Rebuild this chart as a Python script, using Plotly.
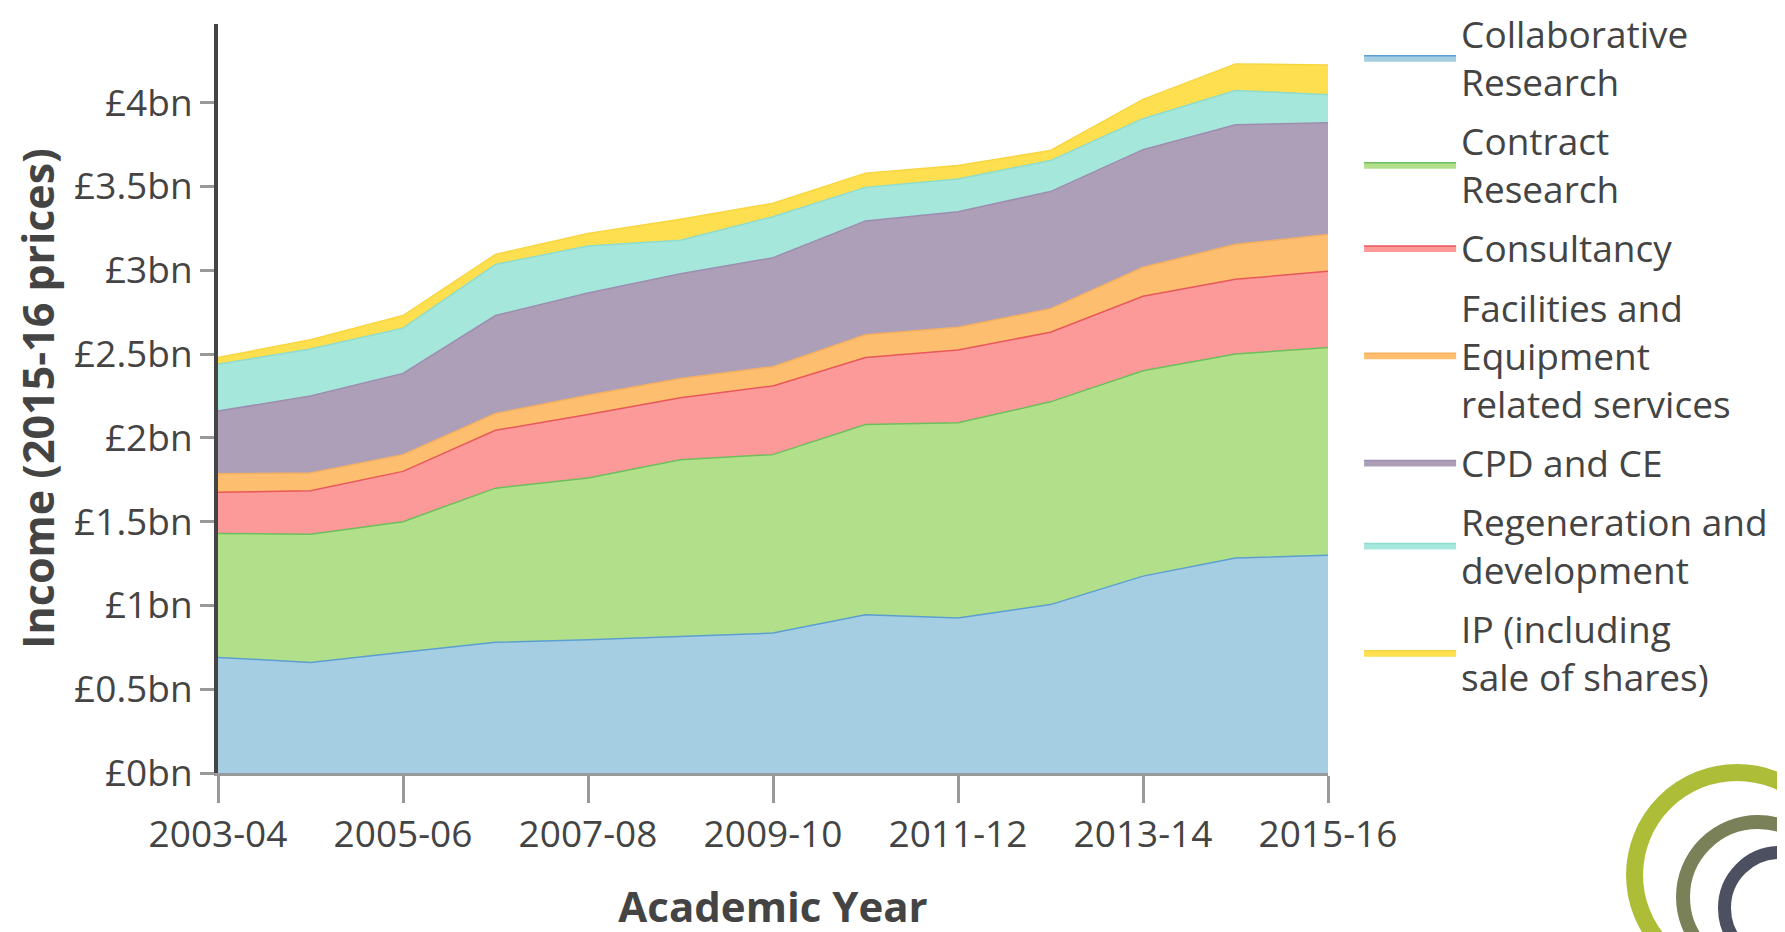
import plotly.graph_objects as go

# Data (£bn, 2015-16 prices)
years = ['2003-04', '2004-05', '2005-06', '2006-07', '2007-08', '2008-09', '2009-10',
         '2010-11', '2011-12', '2012-13', '2013-14', '2014-15', '2015-16']

collaborative = [0.69, 0.66, 0.72, 0.78, 0.795, 0.815, 0.835, 0.945, 0.925, 1.005, 1.175, 1.283, 1.30]
contract = [0.74, 0.765, 0.78, 0.92, 0.965, 1.055, 1.065, 1.135, 1.165, 1.21, 1.225, 1.217, 1.24]
consultancy = [0.245, 0.26, 0.30, 0.345, 0.38, 0.37, 0.41, 0.40, 0.435, 0.415, 0.445, 0.446, 0.454]
facilities = [0.111, 0.105, 0.10, 0.10, 0.115, 0.115, 0.115, 0.135, 0.135, 0.14, 0.173, 0.209, 0.22]
cpd = [0.374, 0.46, 0.485, 0.585, 0.61, 0.625, 0.65, 0.68, 0.69, 0.70, 0.702, 0.714, 0.667]
regeneration = [0.28, 0.28, 0.27, 0.305, 0.28, 0.20, 0.245, 0.20, 0.195, 0.185, 0.185, 0.204, 0.167]
ip = [0.04, 0.055, 0.075, 0.06, 0.075, 0.125, 0.08, 0.085, 0.08, 0.06, 0.115, 0.159, 0.178]

x_tickvals = ['2003-04', '2005-06', '2007-08', '2009-10', '2011-12', '2013-14', '2015-16']
y_tickvals = [0, 0.5, 1, 1.5, 2, 2.5, 3, 3.5, 4]
y_ticktext = ['£0bn', '£0.5bn', '£1bn', '£1.5bn', '£2bn', '£2.5bn', '£3bn', '£3.5bn', '£4bn']

series = [
    ('Collaborative<br>Research', collaborative, '#a6cee3', '#5b9fd0'),
    ('Contract<br>Research', contract, '#b2df8a', '#6cbf5c'),
    ('Consultancy', consultancy, '#fb9a99', '#e8585a'),
    ('Facilities and<br>Equipment<br>related services', facilities, '#fdbf6f', '#f4b060'),
    ('CPD and CE', cpd, '#ad9fb8', '#9d8db0'),
    ('Regeneration and<br>development', regeneration, '#a6e7db', '#8cdccf'),
    ('IP (including<br>sale of shares)', ip, '#fddf4f', '#f7d640'),
]

FONT = 'Open Sans'
TEXT = '#444444'

fig = go.Figure()
for i, (name, vals, fill, line) in enumerate(series):
    fig.add_trace(go.Scatter(
        x=years, y=vals, name=name,
        mode='lines', stackgroup='one',
        line=dict(color=line, width=1.5),
        fillcolor=fill,
        legendgroup='g%d' % i,
        hoverinfo='skip'
    ))

# logo rings in the bottom right corner (pixel sized, anchored in paper coords)
rings = [
    (1.3685, -0.1362, 102.5, 17, '#aebd37'),
    (1.3874, -0.1656, 75, 14, '#7a8058'),
    (1.4072, -0.1802, 55.5, 13, '#4d5060'),
]
shapes = []
for ax_, ay_, r, w, c in rings:
    shapes.append(dict(
        type='circle', xref='paper', yref='paper',
        xsizemode='pixel', ysizemode='pixel',
        xanchor=ax_, yanchor=ay_,
        x0=-r, x1=r, y0=-r, y1=r,
        line=dict(color=c, width=w),
        fillcolor='rgba(0,0,0,0)'
    ))

fig.update_layout(
    width=1785, height=932,
    margin=dict(l=210, r=465, t=16, b=167, autoexpand=False),
    paper_bgcolor='white', plot_bgcolor='white',
    font=dict(family=FONT, color=TEXT, size=37),
    showlegend=True,
    legend=dict(
        x=1.028, xanchor='left', y=1.028, yanchor='top',
        traceorder='grouped', tracegroupgap=8,
        itemwidth=92, maxheight=932,
        font=dict(family=FONT, size=37, color=TEXT),
        bgcolor='rgba(0,0,0,0)'
    ),
    shapes=shapes,
)

fig.update_xaxes(
    type='category', range=[0, 12],
    tickvals=x_tickvals, ticktext=x_tickvals,
    showline=True, linecolor='#999999', linewidth=3,
    ticks='outside', ticklen=27, tickwidth=3, tickcolor='#999999',
    tickfont=dict(family=FONT, size=37, color=TEXT),
    showgrid=False, zeroline=False,
    title=dict(text='<b>Academic Year</b>', standoff=36,
               font=dict(family=FONT, size=42, color=TEXT))
)

fig.update_yaxes(
    range=[0, 4.47],
    tickvals=y_tickvals, ticktext=y_ticktext,
    showline=True, linecolor='#444444', linewidth=4,
    ticks='outside', ticklen=14, tickwidth=3, tickcolor='#999999',
    tickfont=dict(family=FONT, size=37, color=TEXT),
    showgrid=False, zeroline=False,
    title=dict(text='<b>Income (2015-16 prices)</b>', standoff=12,
               font=dict(family=FONT, size=43, color=TEXT))
)

fig.write_html('out.html')
